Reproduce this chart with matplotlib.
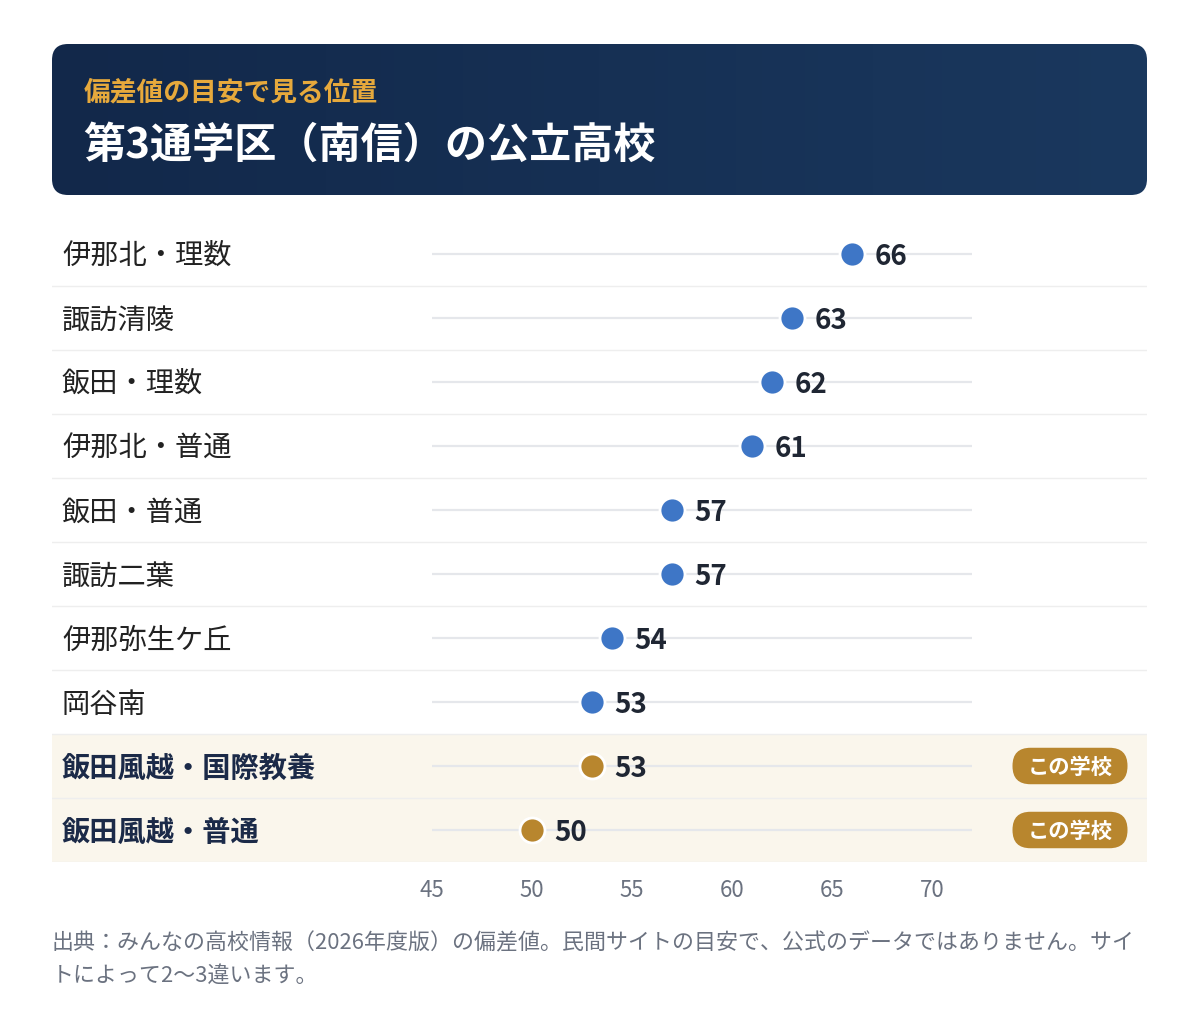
import numpy as np
import matplotlib
matplotlib.use("Agg")
import matplotlib.pyplot as plt
from matplotlib.patches import FancyBboxPatch
from matplotlib.colors import LinearSegmentedColormap

plt.rcParams['font.family'] = ['Noto Sans CJK JP', 'DejaVu Sans']

# data
schools = ["伊那北・理数", "諏訪清陵", "飯田・理数", "伊那北・普通", "飯田・普通",
           "諏訪二葉", "伊那弥生ケ丘", "岡谷南", "飯田風越・国際教養", "飯田風越・普通"]
scores = [66, 63, 62, 61, 57, 57, 54, 53, 53, 50]
is_this_school = [False] * 8 + [True, True]
ticks = [45, 50, 55, 60, 65, 70]

subtitle = "偏差値の目安で見る位置"
title = "第3通学区（南信）の公立高校"
badge_text = "この学校"
note_lines = ["出典：みんなの高校情報（2026年度版）の偏差値。民間サイトの目安で、公式のデータではありません。サイ",
              "トによって2〜3違います。"]

BLUE = "#3e76c6"
GOLD = "#b8862e"
NAVY = "#1b2a48"
GREY = "#6b7280"

W, H = 1200, 1028
fig = plt.figure(figsize=(W / 100, H / 100), dpi=100)
fig.patch.set_facecolor("white")

# background layer in pixel coordinates (header + footnote)
bg = fig.add_axes([0, 0, 1, 1])
bg.set_xlim(0, W)
bg.set_ylim(H, 0)
bg.axis("off")

box = FancyBboxPatch((52, 44), 1095, 151, boxstyle="round,pad=0,rounding_size=16",
                     facecolor="none", edgecolor="none")
bg.add_patch(box)
cmap = LinearSegmentedColormap.from_list("hdr", ["#12284a", "#1a385e"])
grad = np.linspace(0, 1, 256).reshape(1, -1)
im = bg.imshow(grad, cmap=cmap, extent=[52, 1147, 195, 44], aspect="auto", zorder=1)
im.set_clip_path(box)

bg.text(84, 92, subtitle, color="#e6a93c", fontsize=19.3, fontweight="bold",
        va="center", ha="left", zorder=2)
bg.text(83, 146, title, color="white", fontsize=30.3, fontweight="bold",
        va="center", ha="left", zorder=2)

for i, line in enumerate(note_lines):
    bg.text(52, 943 + 33 * i, line, color=GREY, fontsize=15.8, va="center", ha="left")

# dot plot axes: spans x 52..1147 px, rows 222..862 px; 20 px per score unit
ax = fig.add_axes([52 / W, 1 - 862 / H, 1095 / W, 640 / H])
ax.set_xlim(26, 80.75)
n = len(schools)
ax.set_ylim(n - 0.5, -0.5)
ax.set_facecolor("none")
for s in ax.spines.values():
    s.set_visible(False)
ax.set_yticks([])
ax.set_xticks(ticks)
ax.set_xticklabels([str(t) for t in ticks], color=GREY, fontsize=16)
ax.tick_params(axis="x", length=0, pad=12)

# badge size in data units (20 px per x unit, 64 px per row)
badge_x, badge_w, badge_h = 76.9, 5.75, 0.57
dy = -2  # points, nudges CJK text down to the row centre

for i, (name, val, mine) in enumerate(zip(schools, scores, is_this_school)):
    if mine:
        ax.axhspan(i - 0.5, i + 0.5, color="#faf6ec", zorder=0, lw=0)
    ax.axhline(i + 0.5, color="#eeeeee", lw=1, zorder=1)
    ax.hlines(i, 45, 72, color="#e5e7eb", lw=1.6, zorder=2)
    color = GOLD if mine else BLUE
    ax.plot(val, i, "o", ms=18, mfc=color, mec="white", mew=2, zorder=3)
    ax.annotate(str(val), (val, i), xytext=(16, dy), textcoords="offset points",
                va="center", ha="left", fontsize=20, fontweight="bold", color="#1f2633", zorder=4)
    ax.annotate(name, (10 / 1095, i), xycoords=ax.get_yaxis_transform(),
                xytext=(0, dy), textcoords="offset points",
                va="center", ha="left", fontsize=20.3,
                fontweight="bold" if mine else "normal",
                color=NAVY if mine else "#222222")
    if mine:
        badge = FancyBboxPatch((badge_x - badge_w / 2, i - badge_h / 2), badge_w, badge_h,
                               boxstyle="round,pad=0,rounding_size=0.9",
                               mutation_aspect=20 / 64, fc=GOLD, ec="none", zorder=4)
        ax.add_patch(badge)
        ax.annotate(badge_text, (badge_x, i), xytext=(0, -1), textcoords="offset points",
                    va="center", ha="center", fontsize=15.3,
                    fontweight="bold", color="white", zorder=5)

fig.savefig("out.png", dpi=100, facecolor="white")
